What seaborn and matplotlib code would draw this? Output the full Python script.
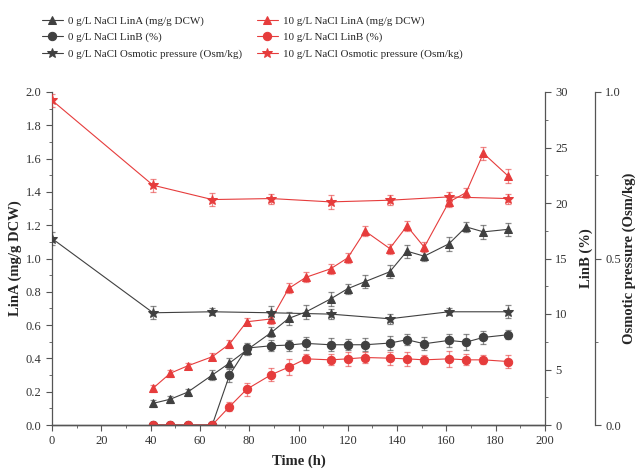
import matplotlib
matplotlib.use("Agg")
import matplotlib.pyplot as plt
import seaborn as sns
from matplotlib.ticker import MultipleLocator

# sampling times (h)
t = [41, 48, 55, 65, 72, 79, 89, 96, 103, 113, 120, 127, 137, 144, 151, 161, 168, 175, 185]
t_osm = [0, 41, 65, 89, 113, 137, 161, 185]

# LinA (mg/g DCW)
lina_0 = [0.13, 0.155, 0.197, 0.30, 0.372, 0.45, 0.556, 0.64, 0.679, 0.757, 0.819, 0.861, 0.92,
          1.044, 1.014, 1.088, 1.19, 1.16, 1.175]
lina_0_err = [0.02, 0.02, 0.02, 0.03, 0.03, 0.03, 0.03, 0.04, 0.04, 0.04, 0.03, 0.04, 0.04,
              0.04, 0.03, 0.04, 0.03, 0.04, 0.04]
lina_10 = [0.221, 0.311, 0.355, 0.41, 0.486, 0.62, 0.637, 0.82, 0.887, 0.938, 1.004, 1.165, 1.06,
           1.195, 1.068, 1.339, 1.396, 1.632, 1.496]
lina_10_err = [0.02, 0.02, 0.02, 0.02, 0.025, 0.02, 0.03, 0.03, 0.03, 0.03, 0.03, 0.03, 0.03,
               0.03, 0.03, 0.03, 0.03, 0.04, 0.04]

# LinB (%)
linb_0 = [0, 0, 0, 0, 4.49, 6.93, 7.14, 7.2, 7.35, 7.23, 7.23, 7.23, 7.38,
          7.68, 7.32, 7.62, 7.47, 7.89, 8.13]
linb_0_err = [0, 0, 0, 0, 0.6, 0.5, 0.5, 0.5, 0.6, 0.6, 0.5, 0.6, 0.6,
              0.5, 0.6, 0.6, 0.7, 0.6, 0.4]
linb_10 = [0, 0, 0, 0, 1.65, 3.22, 4.54, 5.21, 5.96, 5.87, 5.96, 6.08, 6.02,
           5.96, 5.87, 5.96, 5.87, 5.87, 5.72]
linb_10_err = [0, 0, 0, 0, 0.4, 0.6, 0.6, 0.7, 0.4, 0.5, 0.6, 0.5, 0.6,
               0.6, 0.4, 0.7, 0.5, 0.4, 0.6]

# Osmotic pressure (Osm/kg)
osm_0 = [0.56, 0.337, 0.34, 0.337, 0.333, 0.319, 0.34, 0.34]
osm_0_err = [0.02, 0.02, 0.01, 0.02, 0.015, 0.015, 0.01, 0.02]
osm_10 = [0.975, 0.72, 0.677, 0.68, 0.67, 0.675, 0.685, 0.68]
osm_10_err = [0.02, 0.02, 0.02, 0.015, 0.02, 0.015, 0.015, 0.015]

labels = ["0 g/L NaCl LinA (mg/g DCW)", "0 g/L NaCl LinB (%)", "0 g/L NaCl Osmotic pressure (Osm/kg)",
          "10 g/L NaCl LinA (mg/g DCW)", "10 g/L NaCl LinB (%)", "10 g/L NaCl Osmotic pressure (Osm/kg)"]

sns.set_style("ticks")
plt.rcParams['font.family'] = ['Liberation Serif', 'DejaVu Serif']
plt.rcParams['font.size'] = 9

dark = '#404040'
red = '#e63c3c'

fig = plt.figure(figsize=(6.37, 4.68), dpi=100)
ax = fig.add_axes([52/637, 43/468, 493/637, 333/468])
ax2 = ax.twinx()
ax3 = ax.twinx()
ax3.spines['right'].set_position(('outward', 36))


def series(a, x, y, err, color, marker, ms, label):
    a.errorbar(x, y, yerr=err, fmt='none', ecolor=color, alpha=0.6, elinewidth=0.9, capsize=2.5, capthick=0.9)
    sns.lineplot(x=x, y=y, ax=a, color=color, marker=marker, markersize=ms, linewidth=0.8,
                 markeredgecolor=color, label=label, legend=False)


series(ax, t, lina_0, lina_0_err, dark, '^', 6, labels[0])
series(ax, t, lina_10, lina_10_err, red, '^', 6, labels[3])
series(ax2, t, linb_0, linb_0_err, dark, 'o', 6, labels[1])
series(ax2, t, linb_10, linb_10_err, red, 'o', 6, labels[4])
series(ax3, t_osm, osm_0, osm_0_err, dark, '*', 7.5, labels[2])
series(ax3, t_osm, osm_10, osm_10_err, red, '*', 7.5, labels[5])

ax.set_xlim(0, 200)
ax.set_ylim(0, 2.0)
ax2.set_ylim(0, 30)
ax3.set_ylim(0, 1.0)

ax.xaxis.set_major_locator(MultipleLocator(20))
ax.xaxis.set_minor_locator(MultipleLocator(10))
ax.yaxis.set_major_locator(MultipleLocator(0.2))
ax.yaxis.set_minor_locator(MultipleLocator(0.1))
ax.yaxis.set_major_formatter(matplotlib.ticker.FormatStrFormatter('%.1f'))
ax2.yaxis.set_major_locator(MultipleLocator(5))
ax2.yaxis.set_minor_locator(MultipleLocator(2.5))
ax3.yaxis.set_major_locator(MultipleLocator(0.5))
ax3.yaxis.set_minor_locator(MultipleLocator(0.25))
ax3.yaxis.set_major_formatter(matplotlib.ticker.FormatStrFormatter('%.1f'))

for a in (ax, ax2, ax3):
    a.spines['top'].set_visible(False)
    for s in a.spines.values():
        s.set_color('#555555')
        s.set_linewidth(0.9)
    a.tick_params(which='both', direction='out', colors='#555555', labelcolor='#333333', labelsize=9)
    a.tick_params(which='major', length=4)
    a.tick_params(which='minor', length=2.5)
ax.spines['right'].set_visible(False)
for a in (ax2, ax3):
    a.spines['left'].set_visible(False)

ax.set_xlabel('Time (h)', fontweight='bold', fontsize=10.5, labelpad=5)
ax.set_ylabel('LinA (mg/g DCW)', fontweight='bold', fontsize=10.5, labelpad=3)
ax2.set_ylabel('LinB (%)', fontweight='bold', fontsize=10.5, labelpad=8)
ax3.set_ylabel('Osmotic pressure (Osm/kg)', fontweight='bold', fontsize=10.5, labelpad=1)

handles = {}
for a in (ax, ax2, ax3):
    for h in a.get_lines():
        if h.get_label() in labels:
            handles[h.get_label()] = h
fig.legend([handles[l] for l in labels], labels, ncol=2, loc='upper left',
           bbox_to_anchor=(0.057, 0.978), frameon=False, fontsize=7.9, borderpad=0,
           handlelength=1.9, columnspacing=1.4, labelspacing=0.6, handletextpad=0.45)

fig.savefig('out.png', dpi=100)
